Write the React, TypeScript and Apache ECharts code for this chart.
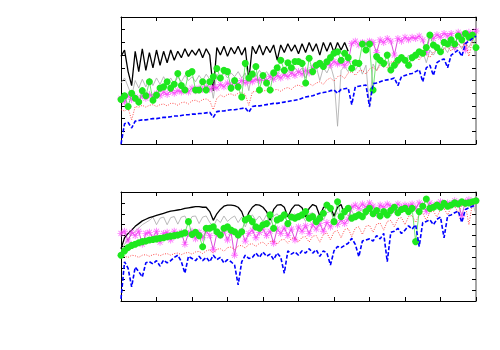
import React, { useEffect, useRef } from "react";
import * as echarts from "echarts";

// ---- top panel ----
const topBlack = [69, 74, 57, 46, 73, 57, 75, 58, 72, 60, 74, 62, 73, 64, 74, 66, 73, 68, 75, 69, 74, 70, 75, 68, 75, 70, 42, 76, 70, 77, 69, 76, 71, 77, 70, 76, 50, 77, 71, 78, 70, 77, 72, 78, 66, 78, 72, 79, 73, 78, 71, 79, 72, 80, 73, 79, 70, 80, 73, 80, 72, 80, 74, 80, 73];
const topGray = [48, 52, 45, 38, 50, 44, 51, 45, 52, 46, 52, 47, 53, 48, 52, 47, 53, 49, 54, 50, 53, 49, 54, 50, 55, 51, 36, 55, 51, 56, 52, 56, 53, 57, 52, 56, 42, 57, 53, 58, 54, 57, 53, 58, 55, 59, 54, 58, 55, 60, 56, 60, 52, 59, 55, 61, 50, 60, 56, 62, 52, 14, 58, 61, 57, 62, 58, 63, 55, 62, 29, 63, 58, 64, 60, 65, 58, 66, 62, 68, 64, 70, 66, 72, 68, 73, 64, 74, 70, 75, 71, 76, 72, 78, 74, 79, 75, 80, 76, 82, 66];
const topMagenta = [36, 33, 38, 35, 37, 34, 38, 36, 39, 37, 40, 38, 41, 39, 42, 40, 42, 41, 43, 41, 44, 42, 44, 43, 45, 43, 45, 44, 47, 45, 48, 46, 49, 47, 50, 48, 50, 49, 51, 50, 52, 50, 53, 51, 54, 52, 55, 53, 56, 54, 57, 55, 58, 56, 60, 62, 63, 61, 64, 62, 65, 63, 64, 62, 65, 79, 81, 78, 80, 79, 81, 80, 72, 82, 80, 83, 81, 70, 83, 81, 84, 82, 84, 83, 85, 82, 72, 85, 83, 86, 84, 87, 85, 87, 76, 88, 86, 74, 88, 87, 89];
const topGreen = [35, 38, 29.5, 40, 36, 33, 42, 38, 49, 34.5, 38.5, 44, 45, 49, 44, 47, 55.5, 46, 42.5, 55.5, 57, 42.5, 42.5, 49, 42.5, 49, 53, 59.5, 52, 58, 57, 44, 50, 45, 37, 63.5, 52, 55, 61, 42.5, 54, 48, 42.5, 56, 60, 66, 58, 64, 60, 65, 65, 63.5, 48, 67.5, 57, 62, 63.5, 61, 64.8, 68, 71.4, 72.7, 66, 71.4, 68, 59.6, 64, 63.5, 78.7, 74, 78.7, 42.5, 68.8, 66, 63.5, 70, 58.3, 62, 66, 68, 66, 62, 68, 70, 72.7, 71.4, 76, 85.8, 78, 76, 72.7, 80, 78.7, 82, 78.7, 85, 82, 87, 84, 85.8, 76];
const topRed = [27, 26, 28, 19, 29.5, 29, 30.5, 29, 30.5, 31, 29.5, 31, 31.5, 30, 32, 32, 30.5, 32.5, 33, 31.5, 34, 34.5, 33, 35, 35.5, 34, 27, 36, 38.5, 37, 39, 39.5, 38, 40, 40.5, 39, 30.5, 41, 41.5, 40, 42, 42, 40.5, 42.5, 43, 41.5, 43.5, 44.5, 43, 45.5, 46.5, 45, 47, 47.5, 46, 48, 49, 47, 50.5, 52, 49.5, 53, 54, 51.5, 56, 57, 54, 57.5, 58, 55, 59, 60.5, 57.5, 62, 63.5, 60, 64.5, 65, 62, 66, 67, 64, 68, 69, 66, 70, 71, 68, 72.5, 74, 71, 75, 76.5, 73, 77.5, 79, 76, 80.5, 69, 82, 84.5];
const topBlue = [0, 16, 17, 12.6, 18, 18.5, 19, 19, 19.5, 20, 20, 20.5, 21, 21, 21.5, 22, 22, 22.5, 23, 23, 23.5, 23.5, 24, 24, 24.5, 25, 21, 25.5, 26, 26, 26.5, 27, 27, 27.5, 28, 28.5, 25, 29.5, 30, 30, 30.5, 31, 31.5, 32, 32, 32.5, 33, 33.5, 34, 34.5, 35, 36, 37, 37.5, 38, 39, 40, 40.5, 41, 42, 42.5, 40, 43, 43.5, 44, 31, 45, 45.5, 46, 46.5, 29.5, 47.5, 48, 49, 50, 50.5, 51, 52, 46, 53, 54, 55, 55.5, 57, 58.5, 49, 60, 62, 54, 64, 66, 67, 60, 70, 72, 74, 69, 79, 81, 83, 85];

// ---- bottom panel ----
const botBlack = [48, 58, 62, 65, 68.5, 71, 73.5, 75, 76.5, 77.5, 78.5, 79.5, 80.5, 81.5, 82.5, 83, 83.5, 84, 85, 85.5, 86, 86.5, 86.5, 86, 86, 82, 74, 80, 84, 87, 88, 88, 87.5, 86, 82, 73, 81, 86, 88.5, 88, 86, 82, 74, 84, 88, 88.5, 86, 77, 84, 88, 88, 85.5, 77, 85, 88.5, 87, 78, 85.5, 88.5, 86.5, 78, 86, 88.5, 79, 84];
const botGray = [45, 52, 57, 61, 64, 67, 70, 72, 74, 77, 70, 76, 77, 70, 76.5, 77.5, 70.5, 77, 78, 71, 77.5, 78, 71, 77, 78, 72, 68, 75, 72, 78, 73, 76, 78, 72, 77, 68, 76, 79, 74, 78, 73, 79, 70, 78, 80, 75, 79, 72, 78, 80, 76, 79, 73, 80, 81, 76, 80, 74, 81, 82, 77, 81, 76, 82, 78, 83, 76, 82, 84, 78, 83, 79, 84, 85, 80, 84, 78, 85, 86, 81, 85, 80, 86, 87, 82, 87, 83, 88, 87, 84, 89, 85, 89, 90, 86, 91, 87, 91, 92, 90, 80];
const botMagenta = [62, 64, 55, 63, 60, 64, 52, 62, 63, 58, 64, 54, 62, 63, 56, 64, 60, 63, 52, 62, 64, 57, 63, 58, 64, 60, 47, 62, 60, 64, 56, 63, 42, 60, 64, 55, 62, 65, 58, 63, 66, 60, 64, 53, 66, 62, 67, 60, 66, 56, 68, 64, 69, 62, 70, 66, 71, 64, 72, 68, 73, 70, 74, 71, 75, 86, 88, 85, 89, 86, 90, 87, 80, 88, 86, 89, 87, 84, 89, 86, 88, 87, 89, 85, 90, 88, 82, 90, 87, 89, 91, 88, 90, 89, 92, 90, 78, 91, 93, 89, 92];
const botGreen = [42, 46, 49, 51, 52, 53.5, 54.5, 55, 56, 56.5, 57, 57.5, 58, 59, 59.5, 60, 60.5, 61.5, 62.5, 72.8, 61, 63, 60, 49.8, 66.7, 66.7, 68, 63.6, 60.6, 66.7, 68, 65, 63.6, 60.6, 63.6, 74.4, 76, 72.8, 68, 66.7, 70, 71, 79, 66.7, 74.4, 76, 79, 71, 77, 76, 77.4, 79, 82, 76, 77.4, 72.8, 76, 80.5, 88, 85, 72.8, 91, 77.4, 82, 85, 76, 77.4, 79, 77.4, 82, 85, 80, 83, 78, 82, 79, 83, 86, 81, 84, 85, 82, 85, 54.5, 82, 87, 93.6, 85, 86, 88, 86, 89.6, 87, 88, 90, 89, 91, 89.6, 90, 91, 92];
const botRed = [40, 41, 40, 42, 41.5, 40, 42, 42.5, 41, 42.5, 43, 41.5, 43, 43.5, 42, 43.5, 44, 42.5, 44, 44.5, 43, 45, 45.5, 43.5, 46, 47, 44, 47.5, 48, 45.5, 49, 49.5, 47, 50.5, 51, 48.5, 52, 52.5, 50, 53, 54, 51, 54.5, 55, 52, 56, 56.5, 53, 57.5, 58, 54, 58.5, 59, 54, 59.5, 60, 54, 61, 62.5, 56, 63.5, 64.5, 58, 65.5, 66.5, 59, 67, 68, 61, 68.5, 69.5, 63, 70.5, 71.5, 65, 73, 74, 68, 75.5, 76.5, 70, 77.5, 78.5, 72, 79.5, 80.5, 74, 81.5, 82.5, 77, 84, 85, 79, 86, 87, 81, 88, 88.5, 70, 90, 91];
const botBlue = [2, 36, 30, 13, 31, 27, 22, 35, 36, 34, 37, 32, 37.5, 35, 37, 40, 42, 36, 25.5, 41, 39, 37, 41, 37, 40, 36, 42, 38, 40, 35, 38, 36, 33, 14.7, 36, 42, 39, 40, 44, 40, 45, 41, 43, 38, 44, 40, 25.5, 46, 43, 45, 42, 46, 44, 48, 44, 47, 41, 46, 44, 33, 46, 50, 49, 51, 53, 57.5, 52, 40.7, 55, 56, 57, 55, 60, 57, 62, 36, 63, 64, 66.7, 62, 65, 69, 66, 70, 50, 72, 73, 74.5, 70, 75, 77, 58, 78, 79, 81, 82.5, 72, 84, 85.5, 87, 88];

const pts = (arr: number[]) => arr.map((v, i) => [i, v]);

const starPath =
  "path://M4.4,0h1.2v3.6l2.6,-2.6l0.8,0.8l-2.6,2.6h3.6v1.2h-3.6l2.6,2.6l-0.8,0.8l-2.6,-2.6v3.6h-1.2v-3.6l-2.6,2.6l-0.8,-0.8l2.6,-2.6h-3.6v-1.2h3.6l-2.6,-2.6l0.8,-0.8l2.6,2.6z";

function panelSeries(
  g: number,
  black: number[],
  gray: number[],
  magenta: number[],
  green: number[],
  red: number[],
  blue: number[]
) {
  const ax = { xAxisIndex: g * 2, yAxisIndex: g * 2 };
  return [
    {
      type: "line", ...ax, data: pts(gray), showSymbol: false, z: 2,
      lineStyle: { color: "#a8a8a8", width: 0.8 },
    },
    {
      type: "line", ...ax, data: pts(black), showSymbol: false, z: 3,
      lineStyle: { color: "#000000", width: 1.3 },
    },
    {
      type: "line", ...ax, data: pts(magenta), symbol: starPath, symbolSize: 7, z: 4,
      itemStyle: { color: "#ff44ff", opacity: 0.75 },
      lineStyle: { color: "#cc00cc", width: 0.7 },
    },
    {
      type: "line", ...ax, data: pts(red), showSymbol: false, z: 5,
      lineStyle: { color: "#ff2020", width: 0.8, type: [1, 1.5] },
    },
    {
      type: "line", ...ax, data: pts(green), symbol: "circle", symbolSize: 7, z: 6,
      itemStyle: { color: "#1ee81e" },
      lineStyle: { color: "#33dd33", width: 0.7 },
    },
    {
      type: "line", ...ax, data: pts(blue), showSymbol: false, z: 7,
      lineStyle: { color: "#0000ff", width: 1.6, type: [4, 2] },
    },
  ];
}

function axisPair(kind: "x" | "y", g: number) {
  const common = {
    type: "value",
    gridIndex: g,
    min: 0,
    max: 100,
    interval: 10,
    axisLabel: { show: false },
    splitLine: { show: false },
    axisTick: { show: true, inside: true, length: 4, lineStyle: { color: "#000", width: 1 } },
  };
  if (kind === "x") {
    return [
      { ...common, position: "bottom", axisLine: { show: true, onZero: false, lineStyle: { color: "#000", width: 1 } } },
      { ...common, position: "top", axisLine: { show: true, onZero: false, lineStyle: { color: "#000", width: 1 } } },
    ];
  }
  return [
    { ...common, position: "left", axisLine: { show: true, onZero: false, lineStyle: { color: "#000", width: 1 } } },
    { ...common, position: "right", axisLine: { show: true, onZero: false, lineStyle: { color: "#888", width: 1.5 } } },
  ];
}

export default function App() {
  const ref = useRef<HTMLDivElement>(null);
  useEffect(() => {
    if (!ref.current) return;
    const chart = echarts.init(ref.current, null, { renderer: "svg" });
    chart.setOption({
      animation: false,
      backgroundColor: "#ffffff",
      grid: [
        { left: 121, top: 17, width: 355, height: 127 },
        { left: 121, top: 192, width: 355, height: 109 },
      ],
      xAxis: [...axisPair("x", 0), ...axisPair("x", 1)],
      yAxis: [...axisPair("y", 0), ...axisPair("y", 1)],
      series: [
        ...panelSeries(0, topBlack, topGray, topMagenta, topGreen, topRed, topBlue),
        ...panelSeries(1, botBlack, botGray, botMagenta, botGreen, botRed, botBlue),
      ],
    });
    return () => chart.dispose();
  }, []);
  return (
    <div
      ref={ref}
      style={{ position: "fixed", left: 0, top: 0, width: 500, height: 350 }}
    />
  );
}
